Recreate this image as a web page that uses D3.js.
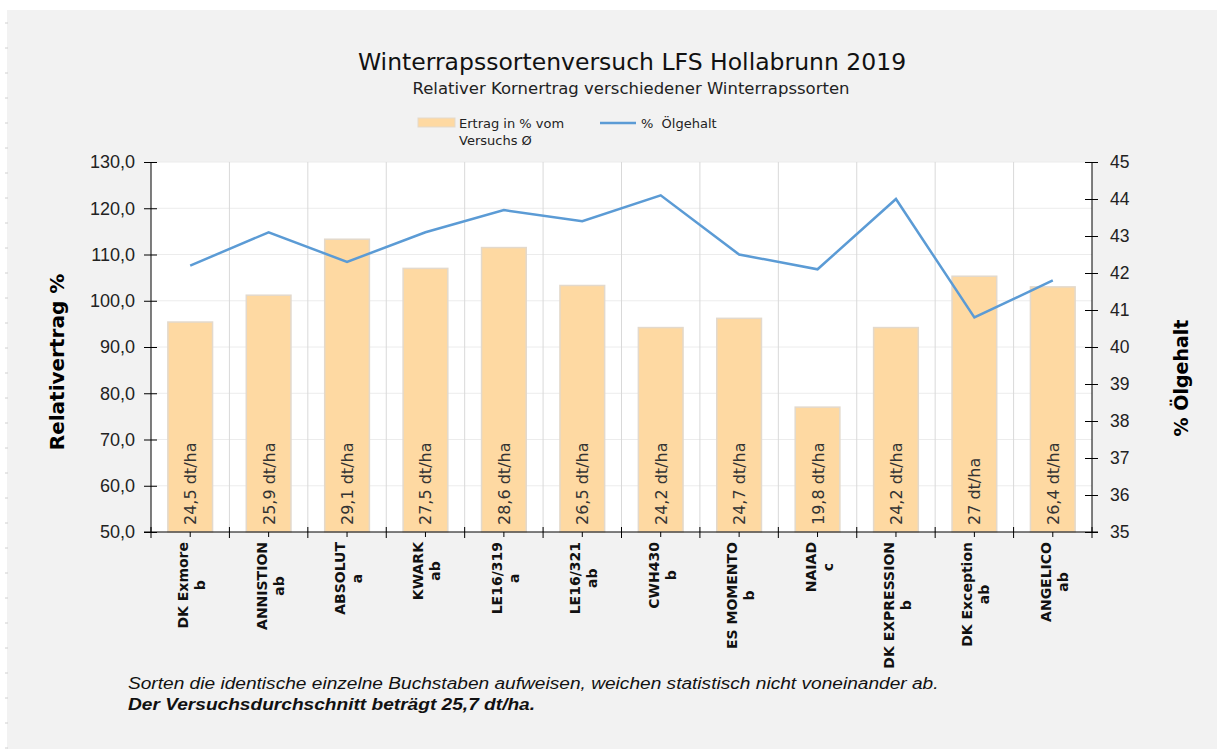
<!DOCTYPE html>
<html lang="de">
<head>
    <meta charset="UTF-8">
    <title>Winterrapssortenversuch LFS Hollabrunn 2019</title>

    <script src="https://d3js.org/d3.v7.min.js"></script>

    <style>
        html, body {
            margin: 0;
            padding: 0;
            background: #ffffff;
        }

        svg {
            display: block;
            font-family: "DejaVu Sans", Verdana, sans-serif;
        }
    </style>

    <script>

        const SORTEN = ["DK Exmore", "ANNISTION", "ABSOLUT", "KWARK", "LE16/319", "LE16/321",
            "CWH430", "ES MOMENTO", "NAIAD", "DK EXPRESSION", "DK Exception", "ANGELICO"];
        const GRUPPEN = ["b", "ab", "a", "ab", "a", "ab", "b", "b", "c", "b", "ab", "ab"];
        const ERTRAG_REL = [95.4, 101.2, 113.3, 107.0, 111.5, 103.3, 94.2, 96.2, 77.0, 94.2, 105.3, 103.0];
        const ERTRAG_DT = ["24,5", "25,9", "29,1", "27,5", "28,6", "26,5", "24,2", "24,7", "19,8", "24,2", "27", "26,4"];
        const OELGEHALT = [42.2, 43.1, 42.3, 43.1, 43.7, 43.4, 44.1, 42.5, 42.1, 44.0, 40.8, 41.8];
        const LEFT_TICKS = [50, 60, 70, 80, 90, 100, 110, 120, 130];
        const RIGHT_TICKS = [35, 36, 37, 38, 39, 40, 41, 42, 43, 44, 45];

        document.addEventListener("DOMContentLoaded", function() {
            drawChart();
        })

        function drawChart() {
            const width = 1219;
            const height = 749;
            const svg = d3.select("svg").attr("width", width).attr("height", height);

            // grey panel + the little marks on the far left
            svg.append("rect")
                .attr("x", 7).attr("y", 10)
                .attr("width", 1210).attr("height", 739)
                .attr("fill", "#f2f2f2");
            svg.append("g").selectAll("line")
                .data(d3.range(23, 749, 25))
                .enter().append("line")
                .attr("x1", 5).attr("x2", 8)
                .attr("y1", d => d).attr("y2", d => d)
                .attr("stroke", "#d0d0d0");

            const m = {left: 151, right: 1092, top: 162, bottom: 532};

            const x = d3.scaleBand().domain(SORTEN).range([m.left, m.right]).paddingInner(0).paddingOuter(0);
            const yL = d3.scaleLinear().domain([50, 130]).range([m.bottom, m.top]);
            const yR = d3.scaleLinear().domain([35, 45]).range([m.bottom, m.top]);

            svg.append("rect")
                .attr("x", m.left).attr("y", m.top)
                .attr("width", m.right - m.left).attr("height", m.bottom - m.top)
                .attr("fill", "#ffffff");

            // horizontal grid
            svg.append("g").selectAll("line")
                .data(LEFT_TICKS.slice(1))
                .enter().append("line")
                .attr("x1", m.left).attr("x2", m.right)
                .attr("y1", d => yL(d)).attr("y2", d => yL(d))
                .attr("stroke", "#ececec");

            // vertical grid at category borders
            svg.append("g").selectAll("line")
                .data(SORTEN.slice(1))
                .enter().append("line")
                .attr("x1", d => x(d)).attr("x2", d => x(d))
                .attr("y1", m.top).attr("y2", m.bottom)
                .attr("stroke", "#d9d9d9");

            // bars
            const barW = x.bandwidth() * 0.57;
            svg.append("g").selectAll("rect")
                .data(SORTEN)
                .enter().append("rect")
                .attr("x", d => x(d) + (x.bandwidth() - barW) / 2)
                .attr("y", (d, i) => yL(ERTRAG_REL[i]))
                .attr("width", barW)
                .attr("height", (d, i) => yL(50) - yL(ERTRAG_REL[i]))
                .attr("fill", "#fed9a2")
                .attr("stroke", "#e3d9cc")
                .style("stroke-width", "1.5px");

            // labels inside bars
            svg.append("g").selectAll("text")
                .data(SORTEN)
                .enter().append("text")
                .attr("transform", d => "translate(" + (x(d) + x.bandwidth() / 2 + 6) + "," + (m.bottom - 7) + ") rotate(-90)")
                .text((d, i) => ERTRAG_DT[i] + " dt/ha")
                .style("font-size", "16px")
                .attr("fill", "#333333");

            // oil line
            const line = d3.line()
                .x((d, i) => x(SORTEN[i]) + x.bandwidth() / 2)
                .y(d => yR(d));
            svg.append("path")
                .datum(OELGEHALT)
                .attr("d", line)
                .attr("fill", "none")
                .attr("stroke", "#5b9bd5")
                .style("stroke-width", "2.5px");

            // left axis
            const axL = svg.append("g")
                .attr("transform", "translate(" + m.left + ",0)")
                .call(d3.axisLeft(yL).tickValues(LEFT_TICKS).tickSize(7).tickPadding(9)
                    .tickFormat(d => d3.format(".1f")(d).replace(".", ",")));
            axL.selectAll(".tick line").attr("x2", 6).attr("x1", -7);
            axL.selectAll("text").style("font-size", "18px").attr("fill", "#222");
            axL.select(".domain").attr("d", "M0," + m.top + "V" + m.bottom);

            // right axis
            const axR = svg.append("g")
                .attr("transform", "translate(" + m.right + ",0)")
                .call(d3.axisRight(yR).tickValues(RIGHT_TICKS).tickSize(6).tickPadding(12)
                    .tickFormat(d3.format("d")));
            axR.selectAll(".tick line").attr("x1", -7).attr("x2", 6);
            axR.selectAll("text").style("font-size", "17.5px").attr("fill", "#222");
            axR.select(".domain").attr("d", "M0," + m.top + "V" + m.bottom);

            // bottom axis
            const axB = svg.append("g").attr("transform", "translate(0," + m.bottom + ")");
            axB.append("line")
                .attr("x1", m.left - 7).attr("x2", m.right + 6)
                .attr("stroke", "#000");
            axB.selectAll("line.major")
                .data(SORTEN.concat(["end"]))
                .enter().append("line")
                .attr("class", "major")
                .attr("x1", (d, i) => i < SORTEN.length ? x(d) : m.right)
                .attr("x2", (d, i) => i < SORTEN.length ? x(d) : m.right)
                .attr("y1", -5).attr("y2", 6)
                .attr("stroke", "#000");
            axB.selectAll("line.minor")
                .data(SORTEN)
                .enter().append("line")
                .attr("class", "minor")
                .attr("x1", d => x(d) + x.bandwidth() / 2)
                .attr("x2", d => x(d) + x.bandwidth() / 2)
                .attr("y1", 0).attr("y2", 5)
                .attr("stroke", "#000");

            // two-line labels, lines centred on each other, block hanging from the axis
            const xl = axB.selectAll("g.cat")
                .data(SORTEN)
                .enter().append("g")
                .attr("class", "cat")
                .attr("transform", d => "translate(" + (x(d) + x.bandwidth() / 2) + ",10) rotate(-90)")
                .style("font-size", "14px")
                .style("font-weight", "bold")
                .attr("fill", "#111");
            xl.append("text").attr("class", "name")
                .attr("y", -2)
                .attr("text-anchor", "end")
                .text(d => d);
            xl.each(function(d, i) {
                const g = d3.select(this);
                const len = g.select("text.name").node().getComputedTextLength();
                g.append("text")
                    .attr("x", -len / 2).attr("y", 15)
                    .attr("text-anchor", "middle")
                    .text(GRUPPEN[i]);
            });

            // axis titles
            svg.append("text")
                .attr("transform", "translate(64,362) rotate(-90)")
                .attr("text-anchor", "middle")
                .style("font-size", "20px").style("font-weight", "bold")
                .text("Relativertrag %");
            svg.append("text")
                .attr("transform", "translate(1188,378) rotate(-90)")
                .attr("text-anchor", "middle")
                .style("font-size", "19px").style("font-weight", "bold")
                .text("% Ölgehalt");

            // titles
            svg.append("text")
                .attr("x", 632).attr("y", 70)
                .attr("text-anchor", "middle")
                .style("font-size", "23.5px").attr("fill", "#111")
                .text("Winterrapssortenversuch LFS Hollabrunn 2019");
            svg.append("text")
                .attr("x", 631).attr("y", 94)
                .attr("text-anchor", "middle")
                .style("font-size", "16.5px").attr("fill", "#222")
                .text("Relativer Kornertrag verschiedener Winterrapssorten");

            // legend
            const lg = svg.append("g").style("font-size", "13px").attr("fill", "#222");
            lg.append("rect")
                .attr("x", 418).attr("y", 118).attr("width", 37).attr("height", 9)
                .attr("fill", "#fed9a2").attr("stroke", "#e3d9cc");
            lg.append("text").attr("x", 459).attr("y", 128).text("Ertrag in % vom");
            lg.append("text").attr("x", 459).attr("y", 145).text("Versuchs Ø");
            lg.append("line")
                .attr("x1", 600).attr("x2", 636).attr("y1", 123).attr("y2", 123)
                .attr("stroke", "#5b9bd5").style("stroke-width", "2.5px");
            lg.append("text").attr("x", 641).attr("y", 128)
                .style("white-space", "pre")
                .text("%  Ölgehalt");

            // footnotes
            const fn = svg.append("g")
                .attr("transform", "translate(128,0) scale(1.125,1)")
                .style("font-family", "'Liberation Sans', Arial, sans-serif")
                .style("font-size", "17px").style("font-style", "italic")
                .attr("fill", "#111");
            fn.append("text")
                .attr("x", 0).attr("y", 689)
                .text("Sorten die identische einzelne Buchstaben aufweisen, weichen statistisch nicht voneinander ab.");
            fn.append("text")
                .attr("x", 0).attr("y", 710)
                .style("font-weight", "bold")
                .text("Der Versuchsdurchschnitt beträgt 25,7 dt/ha.");
        }

    </script>
</head>
<body>
    <svg id="chart"></svg>
</body>
</html>
